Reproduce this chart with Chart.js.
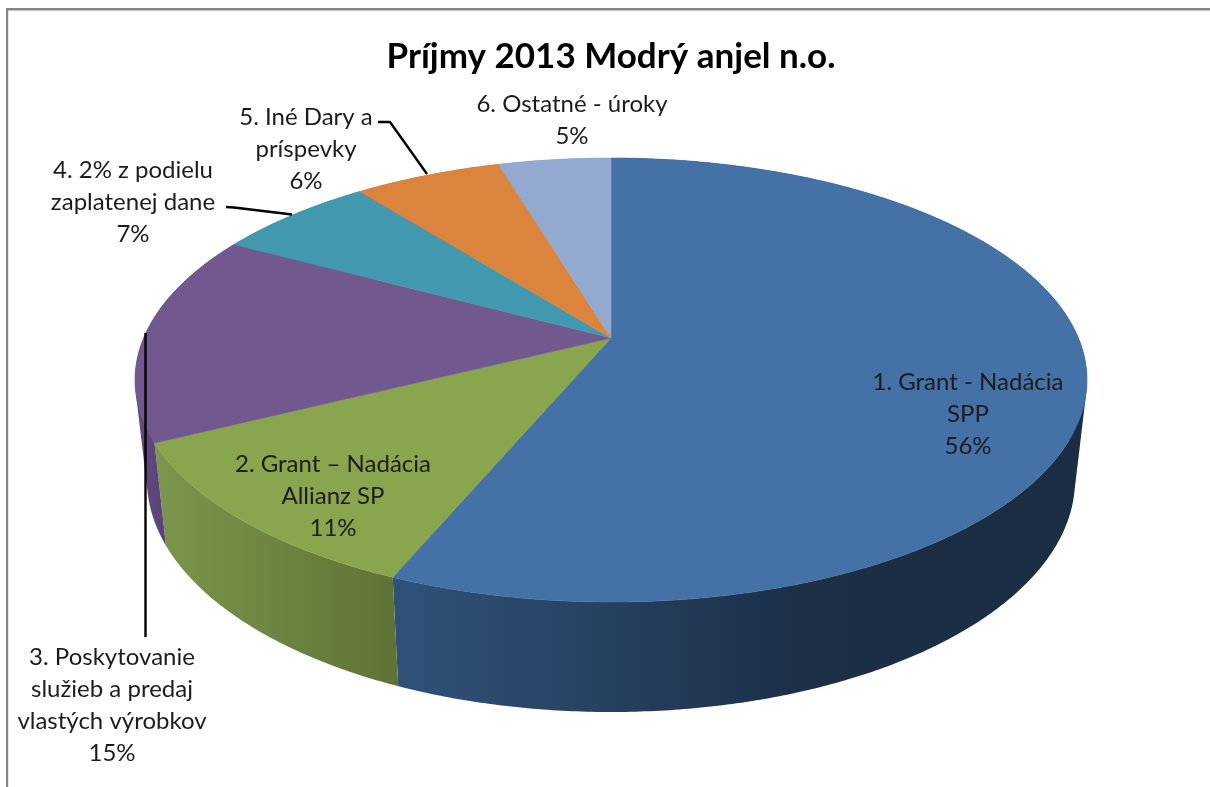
<!DOCTYPE html>
<html>
<head>
<meta charset="utf-8">
<script src="https://cdn.jsdelivr.net/npm/chart.js@4"></script>
<style>
  html, body { margin: 0; padding: 0; background: #fff; overflow: hidden; }
  canvas { display: block; filter: blur(0.45px); }
</style>
</head>
<body>
<canvas id="pie" width="1210" height="787"></canvas>
<script>
const chartTitle = "Príjmy 2013 Modrý anjel n.o.";
const categories = [
    ["1. Grant - Nadácia", "SPP"],
    ["2. Grant – Nadácia", "Allianz SP"],
    ["3. Poskytovanie", "služieb a predaj", "vlastých výrobkov"],
    ["4. 2% z podielu", "zaplatenej dane"],
    ["5. Iné Dary a", "príspevky"],
    ["6. Ostatné - úroky"]
];
const shares = [56.3, 11.3, 15.3, 6.5, 6, 4.6];
const shareLabels = ["56%", "11%", "15%", "7%", "6%", "5%"];

const topColors = ["#4471a6", "#89a54e", "#71588f", "#4198af", "#db843d", "#93a9cf"];
// wall shading, left to right across the slice
const wallColors = [
    [[390, "#30527a"], [600, "#274161"], [800, "#1c2f47"], [1090, "#1b2d42"]],
    [[150, "#7c974c"], [395, "#5f7336"]],
    [[130, "#634a80"], [170, "#5b4377"]],
    [[230, "#2f7386"], [360, "#2f7386"]],
    [[360, "#a8652e"], [500, "#a8652e"]],
    [[500, "#71829f"], [610, "#71829f"]]
];

// where the text goes: centre x, then y of the first line
const labelPos = [[968, 382], [333, 464], [112, 657], [133, 170], [306, 117], [572, 104]];
const lineGap = 32;
const leaders = [
    [[145.5, 333], [145.5, 637]],
    [[226, 207], [234, 207.5], [292, 214.5]],
    [[378, 122], [390, 122], [427, 174]]
];

// ellipses of the top and bottom rim, k pushes the centre back for the perspective
const topRim = { cy: 380, rx: 476, ry: 222 };
const bottomRim = { cy: 480, rx: 464, ry: 232 };
const k = -0.189;
const s = Math.sqrt(1 - k * k);

function project(rim, cx, angle, r) {
    const u = r * Math.cos(angle), v = r * Math.sin(angle);
    const w = 1 + k * v;
    return [cx + rim.rx * s * u / w, rim.cy + rim.ry * (v + k) / w];
}

function addQuad(c, p) {
    // all quads same way round so the one fill has no holes
    let area = 0;
    p.forEach((q, n) => {
        const r = p[(n + 1) % p.length];
        area += q[0] * r[1] - r[0] * q[1];
    });
    const pts = area < 0 ? p.slice().reverse() : p;
    pts.forEach((q, n) => n ? c.lineTo(q[0], q[1]) : c.moveTo(q[0], q[1]));
    c.closePath();
}

const pie3d = {
    id: "pie3d",
    beforeDraw(chart) {
        const c = chart.ctx;
        c.fillStyle = "#fff";
        c.fillRect(0, 0, chart.width, chart.height);
        c.fillStyle = "#858585";
        c.fillRect(6, 8, 1204, 2.5);
        c.fillRect(6, 8, 2.2, 779);
    },
    beforeDatasetsDraw(chart) {
        const c = chart.ctx;
        const arcs = chart.getDatasetMeta(0).data;
        const step = Math.PI / 360;

        // side wall first, the top faces cover the back part of it
        arcs.forEach((arc, i) => {
            const stops = wallColors[i];
            const grad = c.createLinearGradient(stops[0][0], 0, stops[stops.length - 1][0], 0);
            const span = stops[stops.length - 1][0] - stops[0][0];
            stops.forEach(st => grad.addColorStop((st[0] - stops[0][0]) / span, st[1]));
            c.fillStyle = grad;
            c.beginPath();
            for (let a = arc.startAngle; a < arc.endAngle - 1e-6; a += step) {
                const b = Math.min(a + step, arc.endAngle);
                addQuad(c, [project(topRim, arc.x, a, 1), project(topRim, arc.x, b, 1),
                            project(bottomRim, arc.x, b, 1), project(bottomRim, arc.x, a, 1)]);
            }
            c.fill("nonzero");
        });

        arcs.forEach((arc, i) => {
            c.beginPath();
            const apex = project(topRim, arc.x, 0, 0);
            c.moveTo(apex[0], apex[1]);
            for (let a = arc.startAngle; a < arc.endAngle; a += step) {
                const q = project(topRim, arc.x, a, 1);
                c.lineTo(q[0], q[1]);
            }
            const end = project(topRim, arc.x, arc.endAngle, 1);
            c.lineTo(end[0], end[1]);
            c.closePath();
            c.fillStyle = topColors[i];
            c.strokeStyle = topColors[i];
            c.lineWidth = 0.6;
            c.fill();
            c.stroke();
        });
        return false;
    },
    afterDraw(chart) {
        const c = chart.ctx;
        c.strokeStyle = "#000";
        c.lineWidth = 2.4;
        leaders.forEach(line => {
            c.beginPath();
            line.forEach((q, n) => n ? c.lineTo(q[0], q[1]) : c.moveTo(q[0], q[1]));
            c.stroke();
        });

        c.font = "24px Lato";
        c.fillStyle = "#1c1c1c";
        c.textAlign = "center";
        c.textBaseline = "middle";
        categories.forEach((lines, i) => {
            const all = lines.concat(shareLabels[i]);
            all.forEach((txt, n) => c.fillText(txt, labelPos[i][0], labelPos[i][1] + n * lineGap));
        });
    }
};

new Chart(document.getElementById("pie").getContext("2d"), {
    type: "pie",
    data: {
        labels: categories.map(l => l.join(" ")),
        datasets: [{ data: shares, backgroundColor: topColors }]
    },
    options: {
        responsive: false,
        animation: false,
        events: [],
        layout: { padding: { left: 12 } },
        plugins: {
            legend: { display: false },
            tooltip: { enabled: false },
            title: {
                display: true,
                text: chartTitle,
                color: "#000",
                font: { family: "Lato", size: 35, weight: "bold" },
                padding: { top: 36, bottom: 10 }
            }
        }
    },
    plugins: [pie3d]
});
</script>
</body>
</html>
